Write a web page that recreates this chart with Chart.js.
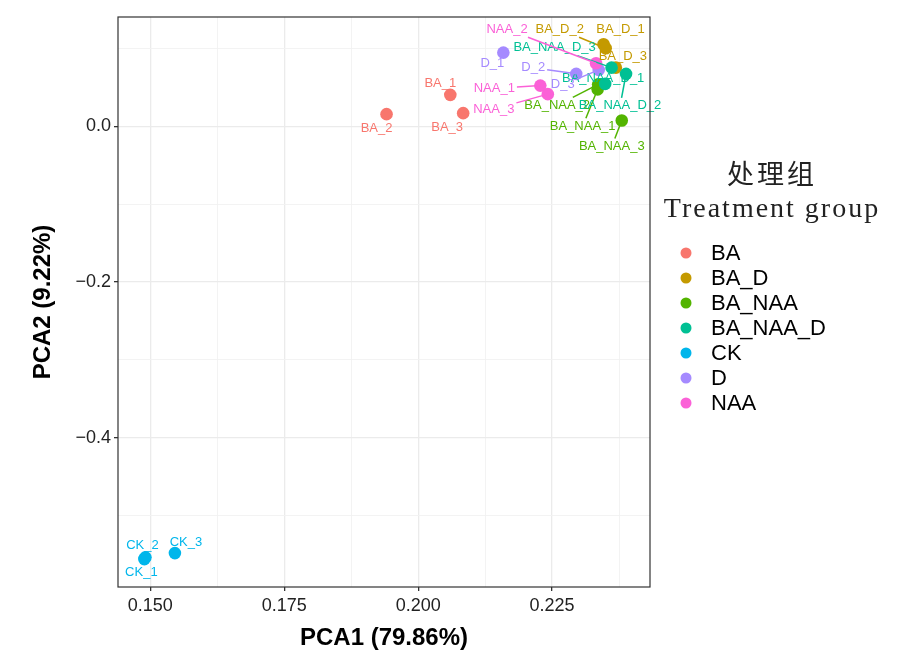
<!DOCTYPE html>
<html>
<head>
<meta charset="utf-8">
<script src="https://cdn.jsdelivr.net/npm/chart.js@4.4.1/dist/chart.umd.min.js"></script>
<style>
  html, body { margin: 0; padding: 0; background: #fff; }
  #wrap { width: 901px; height: 672px; }
</style>
</head>
<body>
<div id="wrap"><canvas id="chart" width="901" height="672"></canvas></div>
<script>
const categories = ['BA', 'BA_D', 'BA_NAA', 'BA_NAA_D', 'CK', 'D', 'NAA'];
const sampleNames = ['BA_1', 'BA_2', 'BA_3', 'BA_D_1', 'BA_D_2', 'BA_D_3', 'BA_NAA_1', 'BA_NAA_2', 'BA_NAA_3',
  'BA_NAA_D_1', 'BA_NAA_D_2', 'BA_NAA_D_3', 'CK_1', 'CK_2', 'CK_3', 'D_1', 'D_2', 'D_3', 'NAA_1', 'NAA_2', 'NAA_3'];
const sampleGroup = ['BA', 'BA', 'BA', 'BA_D', 'BA_D', 'BA_D', 'BA_NAA', 'BA_NAA', 'BA_NAA',
  'BA_NAA_D', 'BA_NAA_D', 'BA_NAA_D', 'CK', 'CK', 'CK', 'D', 'D', 'D', 'NAA', 'NAA', 'NAA'];
const pc1 = [0.2060, 0.1941, 0.2084, 0.2346, 0.2350, 0.2369, 0.2335, 0.2336, 0.2380,
  0.2349, 0.2388, 0.2361, 0.1489, 0.1491, 0.1546, 0.2159, 0.2295, 0.2337, 0.2228, 0.2332, 0.2242];
const pc2 = [0.0407, 0.0159, 0.0172, 0.1058, 0.1006, 0.0757, 0.0478, 0.0542, 0.0077,
  0.0548, 0.0677, 0.0757, -0.5562, -0.5540, -0.5485, 0.0950, 0.0677, 0.0728, 0.0526, 0.0814, 0.0416];
const xTicks = [0.150, 0.175, 0.200, 0.225];
const xMinorTicks = [0.1625, 0.1875, 0.2125, 0.2375];
const yTicks = [0.0, -0.2, -0.4];
const yMinorTicks = [0.1, -0.1, -0.3, -0.5];

// ggplot default hues, one per group
const groupColors = ['#F8766D', '#C49A00', '#53B400', '#00C094', '#00B6EB', '#A58AFF', '#FB61D7'];
// repelled label placement, pixels from the point
const labelOffsets = [[-10, -11], [-10, 14], [-16, 14], [17, -15], [-46, -19], [7, -11], [-15, 37], [-41, 21], [-10, 26],
  [-2, -5], [-6, 32], [-57, -20], [-3, 13], [-3, -12], [11, -11], [-11, 11], [-43, -6], [-36, 15], [-46, 3], [-89, -34], [-54, 15]];

const sansFont = '"Liberation Sans", Arial, sans-serif';
const serifFont = '"Liberation Serif", "Noto Sans CJK SC", serif';
const colorOf = g => groupColors[categories.indexOf(g)];

const datasets = categories.map((g, gi) => ({
  label: g,
  data: sampleNames.map((s, i) => i).filter(i => sampleGroup[i] === g).map(i => ({ x: pc1[i], y: pc2[i] })),
  backgroundColor: groupColors[gi],
  borderWidth: 0,
  pointRadius: 6.3,
  pointHoverRadius: 6.3,
  order: -gi
}));

const fmt = v => (v < 0 ? '\u2212' : '') + Math.abs(v).toFixed(1);

// where the line from label centre to point leaves the label box
const boxExit = (lx, ly, px, py, w, h) => {
  const dx = px - lx, dy = py - ly;
  const t = Math.min(dx ? w / Math.abs(dx) : Infinity, dy ? h / Math.abs(dy) : Infinity);
  return t >= 1 ? null : [lx + dx * t, ly + dy * t];
};

const panelPlugin = {
  id: 'panel',
  afterDatasetsDraw(chart) {
    const { ctx, chartArea: a, scales } = chart;
    ctx.save();
    ctx.font = '13px ' + sansFont;
    ctx.textAlign = 'center';
    ctx.textBaseline = 'middle';
    sampleNames.forEach((name, i) => {
      const px = scales.x.getPixelForValue(pc1[i]);
      const py = scales.y.getPixelForValue(pc2[i]);
      const lx = px + labelOffsets[i][0];
      const ly = py + labelOffsets[i][1];
      const w = ctx.measureText(name).width / 2 + 2;
      const col = colorOf(sampleGroup[i]);
      const start = boxExit(lx, ly, px, py, w, 8);
      if (start && Math.hypot(px - start[0], py - start[1]) > 13) {
        ctx.strokeStyle = col;
        ctx.lineWidth = 1.5;
        ctx.beginPath();
        ctx.moveTo(start[0], start[1]);
        ctx.lineTo(px, py);
        ctx.stroke();
      }
      ctx.fillStyle = col;
      ctx.fillText(name, lx, ly);
    });

    ctx.strokeStyle = '#333';
    ctx.lineWidth = 1.2;
    ctx.strokeRect(a.left, a.top, a.right - a.left, a.bottom - a.top);

    ctx.fillStyle = '#000';
    ctx.font = 'bold 24px ' + sansFont;
    ctx.fillText('PCA1 (79.86%)', (a.left + a.right) / 2, 638);
    ctx.translate(43, (a.top + a.bottom) / 2);
    ctx.rotate(-Math.PI / 2);
    ctx.fillText('PCA2 (9.22%)', 0, 0);
    ctx.restore();

    ctx.save();
    ctx.fillStyle = '#222';
    ctx.textAlign = 'center';
    ctx.textBaseline = 'middle';
    ctx.font = '27px ' + serifFont;
    ctx.letterSpacing = '3px';
    ctx.fillText('处理组', 772, 177);
    ctx.font = '28px ' + serifFont;
    ctx.letterSpacing = '2px';
    ctx.fillText('Treatment group', 772, 210);
    ctx.letterSpacing = '0px';
    ctx.textAlign = 'left';
    ctx.font = '22px ' + sansFont;
    categories.forEach((g, gi) => {
      const y = 253 + gi * 25;
      ctx.fillStyle = groupColors[gi];
      ctx.beginPath();
      ctx.arc(686, y, 5.5, 0, Math.PI * 2);
      ctx.fill();
      ctx.fillStyle = '#000';
      ctx.fillText(g, 711, y + 1);
    });
    ctx.restore();
  }
};

const setTicks = (major, minor) => scale => {
  scale.ticks = major.map(v => ({ value: v, major: true })).concat(minor.map(v => ({ value: v, major: false })));
};
const gridStyle = {
  color: c => c.tick && c.tick.major ? '#ebebeb' : '#f2f2f2',
  lineWidth: c => c.tick && c.tick.major ? 1.3 : 0.9,
  tickColor: c => c.tick && c.tick.major ? '#333' : 'rgba(0,0,0,0)',
  tickLength: 4,
  drawOnChartArea: true
};

new Chart(document.getElementById('chart'), {
  type: 'scatter',
  data: { datasets },
  options: {
    responsive: false,
    animation: false,
    layout: { padding: { left: 0, right: 251, top: 17, bottom: 0 } },
    plugins: { legend: { display: false }, tooltip: { enabled: false } },
    scales: {
      x: {
        type: 'linear',
        min: 0.14398,
        max: 0.24327,
        afterBuildTicks: setTicks(xTicks, xMinorTicks),
        afterFit: s => { s.height = 85; },
        grid: gridStyle,
        border: { display: false },
        ticks: {
          autoSkip: false,
          maxRotation: 0,
          padding: 4,
          color: '#222',
          font: { family: sansFont, size: 18 },
          callback: (v, i, ticks) => ticks[i].major ? v.toFixed(3) : ''
        }
      },
      y: {
        type: 'linear',
        min: -0.5921,
        max: 0.1408,
        afterBuildTicks: setTicks(yTicks, yMinorTicks),
        afterFit: s => { s.width = 118; },
        grid: gridStyle,
        border: { display: false },
        ticks: {
          autoSkip: false,
          padding: 3,
          color: '#222',
          font: { family: sansFont, size: 18 },
          callback: (v, i, ticks) => ticks[i].major ? fmt(v) : ''
        }
      }
    }
  },
  plugins: [panelPlugin]
});
</script>
</body>
</html>
